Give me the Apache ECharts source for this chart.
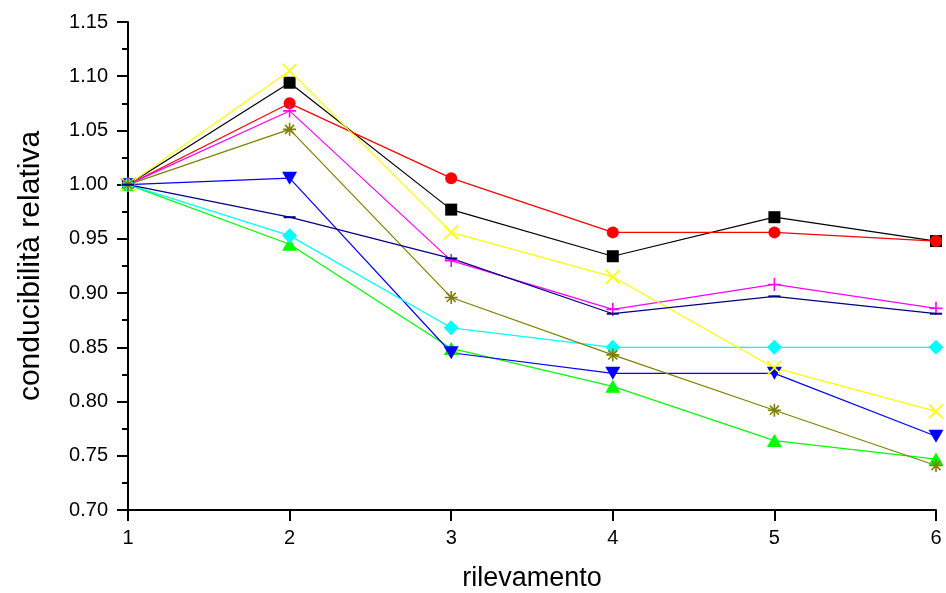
<!DOCTYPE html>
<html><head><meta charset="utf-8">
<script src="https://cdn.jsdelivr.net/npm/echarts@6/dist/echarts.min.js"></script>
<style>html,body{margin:0;padding:0;background:#fff}#c{width:946px;height:593px}</style>
</head><body><div id="c"></div>
<script>
var xValues = [1, 2, 3, 4, 5, 6];
var yTicks = [0.70, 0.75, 0.80, 0.85, 0.90, 0.95, 1.00, 1.05, 1.10, 1.15];
var seriesNames = ['A', 'B', 'C', 'D', 'E', 'F', 'G', 'H', 'I'];
var blackSquare   = [1.000, 1.094, 0.977, 0.934, 0.970, 0.948];
var redCircle     = [1.000, 1.075, 1.006, 0.956, 0.956, 0.948];
var greenUp       = [1.000, 0.945, 0.849, 0.814, 0.764, 0.747];
var blueDown      = [1.000, 1.006, 0.845, 0.826, 0.826, 0.768];
var cyanDiamond   = [1.000, 0.953, 0.868, 0.850, 0.850, 0.850];
var magentaPlus   = [1.000, 1.068, 0.930, 0.885, 0.908, 0.886];
var yellowCross   = [1.000, 1.105, 0.956, 0.915, 0.831, 0.791];
var oliveStar     = [1.000, 1.051, 0.896, 0.843, 0.792, 0.741];
var navyDash      = [1.000, 0.970, 0.932, 0.881, 0.897, 0.881];

var FONT = 'Liberation Sans, Arial, sans-serif';
function pairs(arr){ return xValues.map(function(x,i){ return [x, arr[i]]; }); }
var TRANSPARENT = 'rgba(0,0,0,0)';
function mk(name, data, color, symbol, size, stroke){
  var s = {
    name: name, type: 'line', data: pairs(data),
    symbol: symbol, symbolSize: size, showAllSymbol: true,
    lineStyle: { color: color, width: 1.2 },
    itemStyle: { color: color },
    emphasis: { disabled: true },
    animation: false
  };
  if (stroke) {
    s.symbolKeepAspect = true;
    s.itemStyle = { color: TRANSPARENT, borderColor: color, borderWidth: 1.6 };
  }
  return s;
}
var crossPath = 'path://M0,0L10,10M10,0L0,10';
var plusPath = 'path://M5,0L5,10M0,5L10,5';
var starPath = 'path://M5,0L5,10M0,5L10,5M1.5,1.5L8.5,8.5M8.5,1.5L1.5,8.5';

var series = [
  mk(seriesNames[0], blackSquare, '#000000', 'rect', 12),
  mk(seriesNames[1], redCircle, '#FF0000', 'circle', 12),
  mk(seriesNames[2], greenUp, '#00FF00', 'triangle', [15, 13]),
  mk(seriesNames[3], blueDown, '#0000FF', 'path://M0,0L10,0L5,9Z', [15, 13]),
  mk(seriesNames[4], cyanDiamond, '#00FFFF', 'diamond', [15, 15]),
  mk(seriesNames[5], magentaPlus, '#FF00FF', plusPath, 13, true),
  mk(seriesNames[6], yellowCross, '#FFFF00', crossPath, 14, true),
  mk(seriesNames[7], oliveStar, '#808000', starPath, 13, true),
  mk(seriesNames[8], navyDash, '#000080', 'rect', [12, 2])
];
series[3].symbolKeepAspect = false;

var chart = echarts.init(document.getElementById('c'), null, {renderer: 'canvas'});
chart.setOption({
  backgroundColor: '#ffffff',
  animation: false,
  grid: { left: 128, right: 10, top: 22, bottom: 83, containLabel: false, outerBoundsMode: 'none' },
  xAxis: {
    type: 'value', min: 1, max: 6, interval: 1,
    name: 'rilevamento', nameLocation: 'middle', nameGap: 55,
    nameTextStyle: { fontFamily: FONT, fontSize: 27, color: '#000' },
    axisLine: { show: true, onZero: false, lineStyle: { color: '#000', width: 2 } },
    axisTick: { show: true, inside: false, length: 11, lineStyle: { color: '#000', width: 2 } },
    axisLabel: { fontFamily: FONT, fontSize: 20, color: '#000', margin: 18 },
    splitLine: { show: false }
  },
  yAxis: {
    type: 'value', min: yTicks[0], max: yTicks[yTicks.length-1], interval: 0.05,
    name: 'conducibilità relativa', nameLocation: 'middle', nameGap: 82,
    nameTextStyle: { fontFamily: FONT, fontSize: 30, color: '#000' },
    axisLine: { show: true, onZero: false, lineStyle: { color: '#000', width: 2 } },
    axisTick: { show: true, inside: false, length: 11, lineStyle: { color: '#000', width: 2 } },
    minorTick: { show: true, splitNumber: 2, length: 6, lineStyle: { color: '#000', width: 2 } },
    axisLabel: { fontFamily: FONT, fontSize: 20, color: '#000', margin: 20,
      formatter: function(v){ return v.toFixed(2); } },
    splitLine: { show: false }
  },
  series: series
});
</script></body></html>
